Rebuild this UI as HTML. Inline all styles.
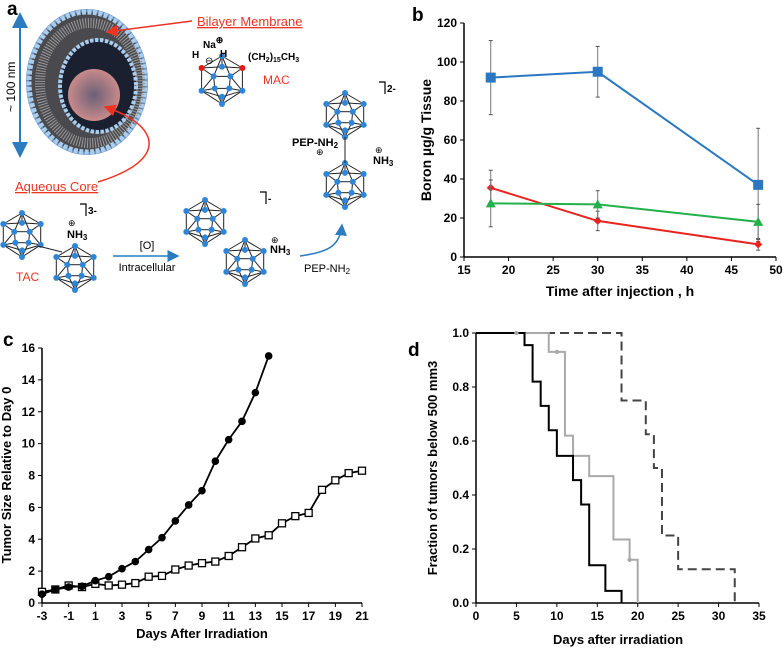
<!DOCTYPE html>
<html><head><meta charset="utf-8"><style>
html,body{margin:0;padding:0;background:#fff;width:784px;height:649px;overflow:hidden}
svg{display:block;font-family:"Liberation Sans",Arial,sans-serif}
.b{font-weight:bold}
</style></head><body>
<svg id="fig" width="784" height="649" viewBox="0 0 784 649">
<defs>
<radialGradient id="core" cx="50%" cy="50%" r="50%"><stop offset="0" stop-color="#6a6078"/><stop offset="1" stop-color="#c98a8a"/></radialGradient>
<marker id="ar" markerWidth="8" markerHeight="8" refX="7" refY="4" orient="auto"><path d="M0,0 L8,4 L0,8 z" fill="#e32"/></marker>
<marker id="ab" markerWidth="8" markerHeight="8" refX="7" refY="4" orient="auto"><path d="M0,0 L8,4 L0,8 z" fill="#2b7bc0"/></marker>
<marker id="ab2" markerWidth="8" markerHeight="8" refX="4" refY="4" orient="auto-start-reverse"><path d="M0,0 L8,4 L0,8 z" fill="#2b7bc0"/></marker>
</defs>
<g id="panelA">
<text x="7" y="15" class="b" font-size="19">a</text>
<line x1="20" y1="150" x2="20" y2="20" stroke="#2b7bc0" stroke-width="2" marker-end="url(#ab2)" marker-start="url(#ab2)"/>
<text x="0" y="0" font-size="12" transform="translate(15,112) rotate(-90)">~ 100 nm</text>
<g>
<ellipse cx="87" cy="82" rx="61" ry="73" fill="#6a8fc0"/>
<ellipse cx="87" cy="82" rx="58" ry="70" fill="#4a4a4e" stroke="#a8cdee" stroke-width="5" stroke-dasharray="4 1.5"/>
<ellipse cx="90" cy="83" rx="50" ry="60" fill="none" stroke="#9a9a9a" stroke-width="10" stroke-dasharray="1 1.6"/>
<ellipse cx="98" cy="86" rx="38" ry="46" fill="#1a2030" stroke="#a8cdee" stroke-width="4" stroke-dasharray="3.5 1.5"/>
<circle cx="94" cy="95" r="26" fill="url(#core)"/>
</g>
<line x1="192" y1="21" x2="107" y2="32" stroke="#e32" stroke-width="1.5" marker-end="url(#ar)"/>
<text x="197" y="26" font-size="13" fill="#e32" text-decoration="underline">Bilayer Membrane</text>
<path d="M98,182 C170,160 160,125 105,107" fill="none" stroke="#e32" stroke-width="1.5" marker-end="url(#ar)"/>
<text x="15" y="191" font-size="13" fill="#e32" text-decoration="underline">Aqueous Core</text>
<g id="clusters"></g>
<text x="203" y="48" font-size="10" class="b">Na<tspan dy="-5" font-size="9">⊕</tspan></text>
<text x="192" y="58" font-size="10" class="b">H</text><text x="220" y="57" font-size="10" class="b">H</text>
<text x="205" y="64" font-size="10">⊖</text>
<text x="248" y="60" font-size="10" class="b">(CH<tspan font-size="7" dy="2">2</tspan><tspan dy="-2">)</tspan><tspan font-size="7" dy="2">15</tspan><tspan dy="-2">CH</tspan><tspan font-size="7" dy="2">3</tspan></text>
<text x="263" y="84" font-size="12" fill="#e32">MAC</text>
<path d="M80,204 H86 V216" fill="none" stroke="#000" stroke-width="1.2"/><text x="88" y="214" font-size="10" class="b">3-</text>
<text x="68" y="226" font-size="9">⊕</text><text x="67" y="238" font-size="11" class="b">NH<tspan font-size="8" dy="2">3</tspan></text>
<text x="16" y="281" font-size="12" fill="#e32">TAC</text>
<line x1="113" y1="256" x2="178" y2="256" stroke="#2b7bc0" stroke-width="1.5" marker-end="url(#ab)"/>
<text x="147" y="249" font-size="11" text-anchor="middle">[O]</text>
<text x="147" y="271" font-size="11" text-anchor="middle">Intracellular</text>
<path d="M260,192 H266 V204" fill="none" stroke="#000" stroke-width="1.2"/><text x="268" y="202" font-size="10" class="b">-</text>
<text x="271" y="243" font-size="9">⊕</text><text x="270" y="253" font-size="11" class="b">NH<tspan font-size="8" dy="2">3</tspan></text>
<path d="M300,256 C330,252 340,245 342,225" fill="none" stroke="#2b7bc0" stroke-width="1.5" marker-end="url(#ab)"/>
<text x="304" y="272" font-size="11">PEP-NH<tspan font-size="8" dy="2">2</tspan></text>
<path d="M379,82 H385 V94" fill="none" stroke="#000" stroke-width="1.2"/><text x="387" y="92" font-size="10" class="b">2-</text>
<text x="292" y="146" font-size="11" class="b">PEP-NH<tspan font-size="8" dy="2">2</tspan></text>
<text x="316" y="155" font-size="9">⊕</text>
<text x="375" y="153" font-size="9">⊕</text><text x="373" y="164" font-size="11" class="b">NH<tspan font-size="8" dy="2">3</tspan></text>
</g>
<g id="panelB">
<text x="412" y="21" class="b" font-size="19">b</text>
<text x="0" y="0" class="b" font-size="14" text-anchor="middle" transform="translate(431,140) rotate(-90)">Boron µg/g Tissue</text>
<text x="620" y="296" class="b" font-size="14" text-anchor="middle">Time after injection , h</text>
</g>
<g id="panelC">
<text x="3" y="346" class="b" font-size="19">c</text>
<text x="0" y="0" class="b" font-size="13" text-anchor="middle" transform="translate(11,475) rotate(-90)">Tumor Size Relative to Day 0</text>
<text x="202" y="638" class="b" font-size="13" text-anchor="middle">Days After Irradiation</text>
</g>
<g id="panelD">
<text x="408" y="356" class="b" font-size="19">d</text>
<text x="0" y="0" class="b" font-size="13" text-anchor="middle" transform="translate(437,468) rotate(-90)">Fraction of tumors below 500 mm3</text>
<text x="618" y="644" class="b" font-size="13" text-anchor="middle">Days after irradiation</text>
</g>
</svg>
<script>
// Panel b data
const bTimes=[18,30,48];
const bBlue=[92,95,37];
const bBlueErr=[19,13,29];
const bRed=[35.5,18.5,6.5];
const bRedErr=[9,5,3];
const bGreen=[27.5,27,18];
const bGreenErr=[12,7,9];
const bXTicks=[15,20,25,30,35,40,45,50];
const bYTicks=[0,20,40,60,80,100,120];
// Panel c data
const cDaysOpen=[-3,-2,-1,0,1,2,3,4,5,6,7,8,9,10,11,12,13,14,15,16,17,18,19,20,21];
const cOpen=[0.7,0.85,1.1,1.0,1.2,1.1,1.15,1.25,1.65,1.7,2.1,2.35,2.5,2.6,2.95,3.5,4.05,4.25,5.0,5.45,5.65,7.1,7.7,8.15,8.3];
const cDaysFilled=[-3,-2,-1,0,1,2,3,4,5,6,7,8,9,10,11,12,13,14];
const cFilled=[0.55,0.85,1.0,1.05,1.4,1.65,2.15,2.6,3.35,4.1,5.15,6.15,7.05,8.9,10.25,11.4,13.2,15.5];
const cXTicks=[-3,-1,1,3,5,7,9,11,13,15,17,19,21];
const cYTicks=[0,2,4,6,8,10,12,14,16];
// Panel d data
const dBlackT=[0,6,7,8,9,10,12,13,14,16,18];
const dBlackV=[1,0.955,0.82,0.73,0.64,0.545,0.455,0.365,0.14,0.045,0];
const dGrayT=[0,9,11,12,14,17,19,20];
const dGrayV=[1,0.93,0.62,0.545,0.47,0.235,0.16,0];
const dDashT=[0,18,21,22,23,25,32];
const dDashV=[1,0.75,0.625,0.5,0.25,0.125,0];
const dCensorT=[5,10,19];
const dCensorV=[1,0.93,0.16];
const dXTicks=[0,5,10,15,20,25,30,35];
const dYTicks=[0,0.2,0.4,0.6,0.8,1.0];

const NS='http://www.w3.org/2000/svg';
function mk(parent,tag,attrs){const e=document.createElementNS(NS,tag);for(const k in attrs)e.setAttribute(k,attrs[k]);parent.appendChild(e);return e;}
function lin(d0,d1,r0,r1){return v=>r0+(v-d0)/(d1-d0)*(r1-r0);}

function axes(g,x,y,xt,yt,x0,x1,y0,y1,fmt,fs,nm){
  let e=mk(g,'line',{x1:x0,y1:y0,x2:x1,y2:y0,stroke:'#000','stroke-width':1.5});
  
  
  e=mk(g,'line',{x1:x0,y1:y0,x2:x0,y2:y1,stroke:'#000','stroke-width':1.5});
  
  
  xt.forEach(v=>{mk(g,'line',{x1:x(v),x2:x(v),y1:y0,y2:y0+4,stroke:'#000'});
    const t=mk(g,'text',{x:x(v),y:y0+17,'text-anchor':'middle','font-size':fs,'font-weight':'bold'});t.textContent=v;
    
    });
  yt.forEach(v=>{mk(g,'line',{x1:x0-4,x2:x0,y1:y(v),y2:y(v),stroke:'#000'});
    const t=mk(g,'text',{x:x0-7,y:y(v)+4,'text-anchor':'end','font-size':fs,'font-weight':'bold'});t.textContent=fmt(v);
    
    });
}

// Panel B
(function(){
  const g=document.getElementById('panelB');
  const x=lin(15,50,464,776), y=lin(0,120,257,23);
  axes(g,x,y,bXTicks,bYTicks,464,776,257,23,v=>v,12,'b');
  const series=[[bBlue,bBlueErr,'#2a78c2','square','blue-series'],[bRed,bRedErr,'#e8221e','diamond','red-series'],[bGreen,bGreenErr,'#22b04a','triangle','green-series']];
  series.forEach(([vals,err,col,sh,nm])=>{
    vals.forEach((v,i)=>{mk(g,'line',{x1:x(bTimes[i]),x2:x(bTimes[i]),y1:y(v+err[i]),y2:y(Math.max(0,v-err[i])),stroke:'#777'});
      mk(g,'line',{x1:x(bTimes[i])-2,x2:x(bTimes[i])+2,y1:y(v+err[i]),y2:y(v+err[i]),stroke:'#555'});
      mk(g,'line',{x1:x(bTimes[i])-2,x2:x(bTimes[i])+2,y1:y(Math.max(0,v-err[i])),y2:y(Math.max(0,v-err[i])),stroke:'#555'});});
    const p=mk(g,'polyline',{points:vals.map((v,i)=>x(bTimes[i])+','+y(v)).join(' '),fill:'none',stroke:col,'stroke-width':2});
    
    
    vals.forEach((v,i)=>{const cx=x(bTimes[i]),cy=y(v);let m;
      if(sh==='square')m=mk(g,'rect',{x:cx-5,y:cy-5,width:10,height:10,fill:col});
      else if(sh==='diamond')m=mk(g,'path',{d:`M${cx},${cy-4}L${cx+4},${cy}L${cx},${cy+4}L${cx-4},${cy}Z`,fill:col});
      else m=mk(g,'path',{d:`M${cx},${cy-5}L${cx+5},${cy+4}L${cx-5},${cy+4}Z`,fill:col});
      
      });
  });
})();

// Panel C
(function(){
  const g=document.getElementById('panelC');
  const x=lin(-3,21,42,362), y=lin(0,16,603,348);
  axes(g,x,y,cXTicks,cYTicks,42,362,603,348,v=>v,12,'c');
  let p=mk(g,'polyline',{points:cOpen.map((v,i)=>x(cDaysOpen[i])+','+y(v)).join(' '),fill:'none',stroke:'#000','stroke-width':1.8});
  
  
  p=mk(g,'polyline',{points:cFilled.map((v,i)=>x(cDaysFilled[i])+','+y(v)).join(' '),fill:'none',stroke:'#000','stroke-width':1.8});
  
  
  cOpen.forEach((v,i)=>{const r=mk(g,'rect',{x:x(cDaysOpen[i])-3.5,y:y(v)-3.5,width:7,height:7,fill:'#fff',stroke:'#000','stroke-width':1.3});
    
    });
  cFilled.forEach((v,i)=>{const c=mk(g,'circle',{cx:x(cDaysFilled[i]),cy:y(v),r:3.8,fill:'#000'});
    
    });
})();

// Panel D
(function(){
  const g=document.getElementById('panelD');
  const x=lin(0,35,476,759), y=lin(0,1,603,333);
  axes(g,x,y,dXTicks,dYTicks,476,759,603,333,v=>v.toFixed(1),12,'d');
  function step(T,V){let d=`M${x(T[0])},${y(V[0])}`;for(let i=1;i<T.length;i++){d+=`L${x(T[i])},${y(V[i-1])}L${x(T[i])},${y(V[i])}`;}return d;}
  let p=mk(g,'path',{d:step(dDashT,dDashV),fill:'none',stroke:'#444','stroke-width':2,'stroke-dasharray':'9 5'});
  
  
  p=mk(g,'path',{d:step(dGrayT,dGrayV),fill:'none',stroke:'#aaa','stroke-width':2});
  
  
  p=mk(g,'path',{d:step(dBlackT,dBlackV),fill:'none',stroke:'#000','stroke-width':2});
  
  
  dCensorT.forEach((t,i)=>{const c=mk(g,'circle',{cx:x(t),cy:y(dCensorV[i]),r:2.2,fill:'#aaa'});
    
    });
})();

// Panel A clusters (schematic)
(function(){
  const g=document.getElementById('clusters');
  function cluster(cx,cy,s,red){
    const pts=[[0,-1],[-0.85,-0.5],[0.85,-0.5],[-0.85,0.45],[0.85,0.45],[0,1],[-0.35,-0.15],[0.35,-0.15],[-0.3,0.35],[0.3,0.35],[0,-0.55],[0,0.7]].map(p=>[cx+p[0]*s,cy+p[1]*s]);
    const E=[[0,1],[0,2],[1,3],[2,4],[3,5],[4,5],[0,6],[0,7],[1,6],[2,7],[6,7],[6,8],[7,9],[8,9],[3,8],[4,9],[8,5],[9,5],[1,10],[2,10],[10,0],[3,11],[4,11],[11,5],[6,3],[7,4]];
    E.forEach(([a,b])=>mk(g,'line',{x1:pts[a][0],y1:pts[a][1],x2:pts[b][0],y2:pts[b][1],stroke:'#222','stroke-width':1}));
    pts.forEach((p,i)=>mk(g,'circle',{cx:p[0],cy:p[1],r:3,fill:(red&&(i===1||i===2))?'#e01818':'#2f86d8'}));
  }
  cluster(222,80,24,true);
  cluster(22,235,22);cluster(75,268,22);
  cluster(205,222,22);cluster(245,262,22);
  cluster(345,115,22);cluster(345,185,22);
  mk(g,'line',{x1:345,y1:137,x2:345,y2:163,stroke:'#222'});
  mk(g,'line',{x1:38,y1:246,x2:62,y2:252,stroke:'#222'});
})();
</script>
</body></html>
